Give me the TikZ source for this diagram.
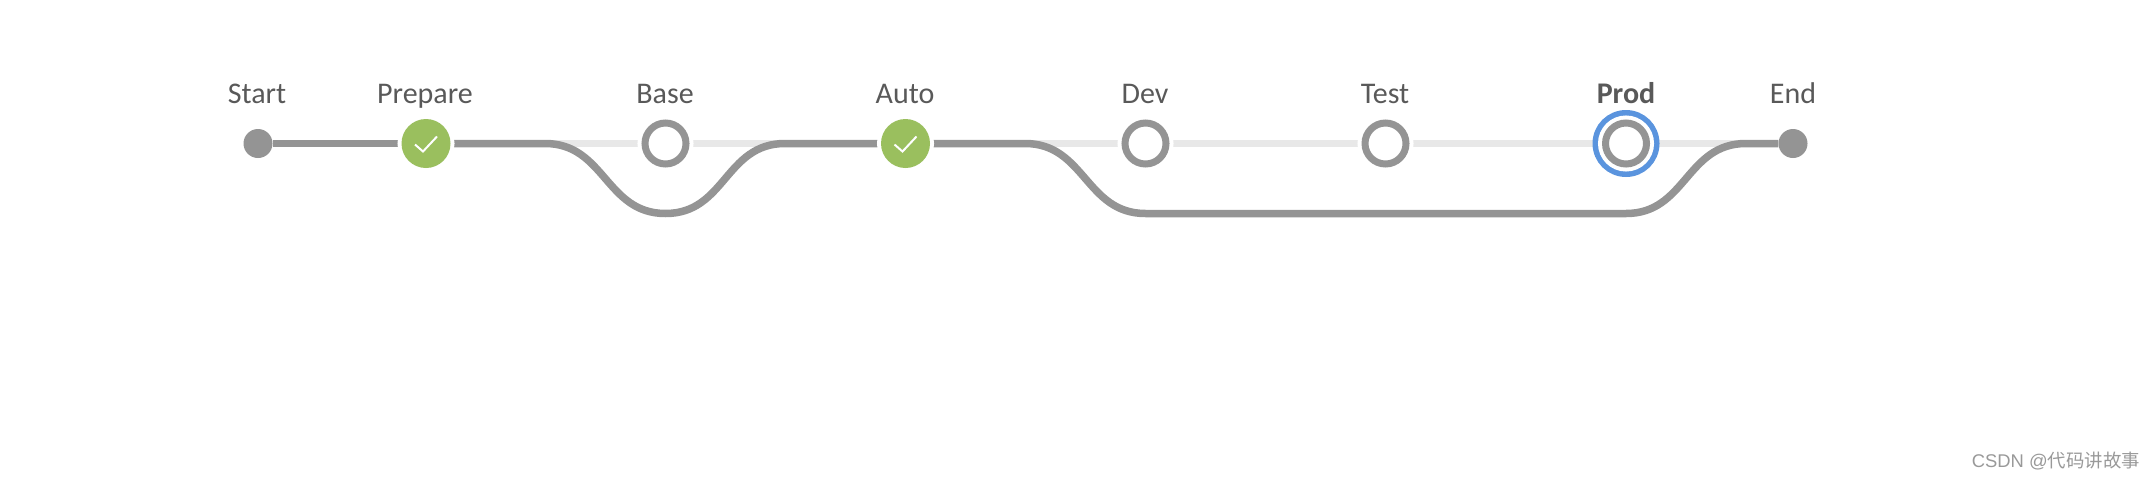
\documentclass[tikz,border=0pt]{standalone}
\usepackage{fontspec}
\setmainfont{Carlito}
\newfontfamily\markfont{Liberation Sans}
\newfontfamily\markcjk{Noto Sans CJK SC}
\usetikzlibrary{backgrounds}
\definecolor{stagegray}{HTML}{949494}
\definecolor{tracklight}{HTML}{E8E8E8}
\definecolor{passgreen}{HTML}{9ABF5E}
\definecolor{activeblue}{HTML}{5A94DE}
\definecolor{labelgray}{HTML}{595959}
\tikzset{
  endpoint/.style={circle,fill=stagegray,minimum size=29pt,inner sep=0pt},
  passed/.style={circle,fill=passgreen,minimum size=49pt,inner sep=0pt,preaction={draw=white,line width=8pt}},
  pending/.style={circle,draw=stagegray,fill=white,line width=7pt,minimum size=41pt,inner sep=0pt,preaction={draw=white,line width=15pt}},
  activering/.style={circle,draw=activeblue,fill=white,line width=7pt,minimum size=60pt,inner sep=0pt},
  stagelabel/.style={anchor=base,text=labelgray,font=\fontsize{30pt}{32pt}\selectfont,inner sep=0pt},
  lighttrack/.style={draw=tracklight,line width=7.5pt},
  darktrack/.style={draw=stagegray,line width=7.5pt},
  tick/.style={draw=white,line width=2pt}
}
\begin{document}
\begin{tikzpicture}[x=1pt,y=-1pt]
  \useasboundingbox (0,0) rectangle (2154,480);
  \node[endpoint] (start) at (258,143.5) {};
  \node[passed] (prepare) at (426,143.5) {};
  \node[pending] (base) at (665.5,143.5) {};
  \node[passed] (auto) at (905.5,143.5) {};
  \node[pending] (dev) at (1145.5,143.5) {};
  \node[pending] (test) at (1385.5,143.5) {};
  \node[activering] (prodring) at (1626,143.5) {};
  \node[pending] (prod) at (1626,143.5) {};
  \node[endpoint] (end) at (1793,143.5) {};
  % labels
  \node[stagelabel] (startlabel) at (257,103) {Start};
  \node[stagelabel] (preparelabel) at (425,103) {Prepare};
  \node[stagelabel] (baselabel) at (665,103) {Base};
  \node[stagelabel] (autolabel) at (905,103) {Auto};
  \node[stagelabel] (devlabel) at (1145,103) {Dev};
  \node[stagelabel] (testlabel) at (1385,103) {Test};
  \node[stagelabel,font=\fontsize{30pt}{32pt}\selectfont\bfseries] (prodlabel) at (1626,103) {Prod};
  \node[stagelabel] (endlabel) at (1793,103) {End};
  % ticks
  \draw[tick] ([shift={(-11,1)}]prepare.center) -- ([shift={(-3,8)}]prepare.center) -- ([shift={(11,-7)}]prepare.center);
  \draw[tick] ([shift={(-11,1)}]auto.center) -- ([shift={(-3,8)}]auto.center) -- ([shift={(11,-7)}]auto.center);
  % bends
  \coordinate (leavebase) at (545,143.5);
  \coordinate (underbase) at (665.5,213.5);
  \coordinate (joinauto) at (785,143.5);
  \coordinate (leavedev) at (1025,143.5);
  \coordinate (underdev) at (1145.5,213.5);
  \coordinate (underprod) at (1626,213.5);
  \coordinate (joinend) at (1746,143.5);
  \begin{scope}[on background layer]
    \draw[lighttrack] (start) -- (end);
    \draw[darktrack] (start) -- (prepare);
    \draw[darktrack] (prepare) -- (leavebase)
      .. controls +(60,0) and +(-60,0) .. (underbase)
      .. controls +(60,0) and +(-60,0) .. (joinauto) -- (auto);
    \draw[darktrack] (auto) -- (leavedev)
      .. controls +(60,0) and +(-60,0) .. (underdev) -- (underprod)
      .. controls +(60,0) and +(-60,0) .. (joinend) -- (end);
  \end{scope}
  \node[anchor=east,text=black!40,font=\fontsize{18.4pt}{22pt}\markfont,inner sep=0pt] (csdnmark) at (2140,461) {CSDN @{\markcjk 代码讲故事}};
\end{tikzpicture}
\end{document}
